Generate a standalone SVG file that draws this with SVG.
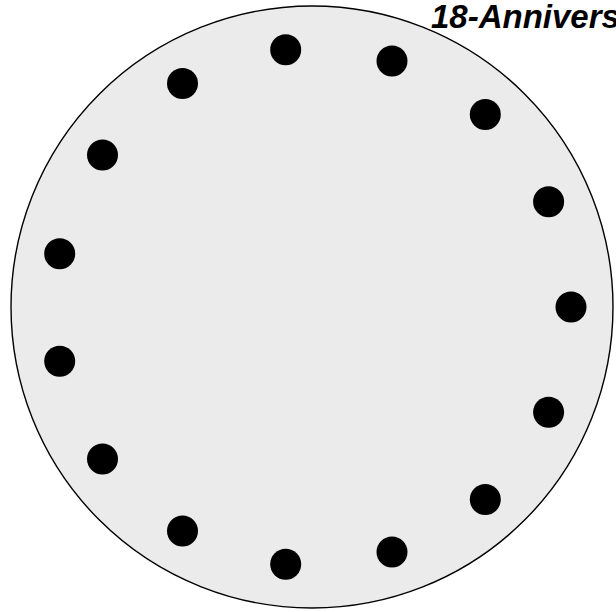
<svg xmlns="http://www.w3.org/2000/svg" width="616" height="612" viewBox="0 0 616 612">
<style>
.plate{fill:#ebebeb;stroke:#000;stroke-width:1.4}
.hole{fill:#000}
.title{font-family:"Liberation Sans",Arial,sans-serif;font-weight:bold;font-style:italic;font-size:33px;fill:#000}
</style>
<rect width="616" height="612" fill="#fff"/>
<g id="plate"><circle class="plate" cx="312" cy="307" r="301"/></g>
<g id="holes">
<circle class="hole" cx="571" cy="307" r="15.5"/>
<circle class="hole" cx="548.6" cy="201.7" r="15.5"/>
<circle class="hole" cx="485.3" cy="114.5" r="15.5"/>
<circle class="hole" cx="392" cy="61" r="15.5"/>
<circle class="hole" cx="285.7" cy="49.8" r="15.5"/>
<circle class="hole" cx="182.5" cy="83.5" r="15.5"/>
<circle class="hole" cx="102.5" cy="155" r="15.5"/>
<circle class="hole" cx="59.7" cy="253.7" r="15.5"/>
<circle class="hole" cx="59.7" cy="361.3" r="15.5"/>
<circle class="hole" cx="102.5" cy="459" r="15.5"/>
<circle class="hole" cx="182.5" cy="531" r="15.5"/>
<circle class="hole" cx="392" cy="552" r="15.5"/>
<circle class="hole" cx="285.7" cy="564.2" r="15.5"/>
<circle class="hole" cx="485.3" cy="499.5" r="15.5"/>
<circle class="hole" cx="548.6" cy="412.3" r="15.5"/>
</g>
<g id="title"><text class="title" x="431" y="27.5">18-Anniversary</text></g>
</svg>
